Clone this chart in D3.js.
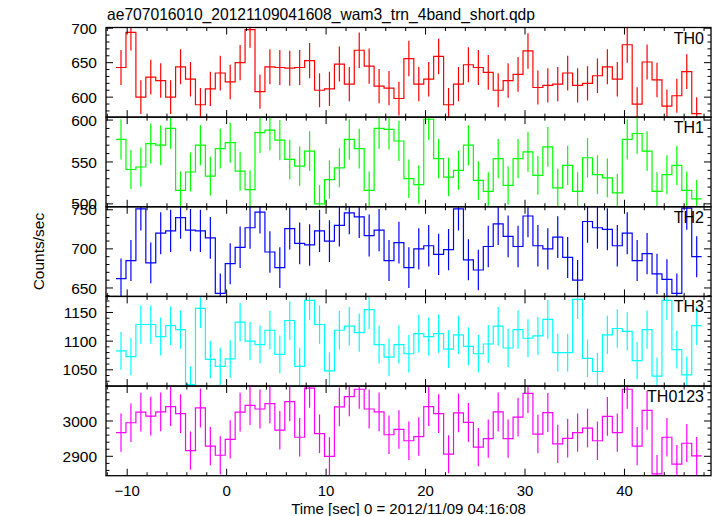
<!DOCTYPE html>
<html>
<head>
<meta charset="utf-8">
<script src="https://cdn.jsdelivr.net/npm/d3@7/dist/d3.min.js"></script>
<style>
  html, body { margin: 0; padding: 0; background: #fff; }
  svg { display: block; }
  text { font-family: "Liberation Sans", Arial, Helvetica, sans-serif; fill: #000; }
</style>
</head>
<body>
<svg id="chart" width="717" height="516"></svg>
<script>
// ---------------- data ----------------
const title = "ae707016010_20121109041608_wam3_trn_4band_short.qdp";
const xLabel = "Time [sec] 0 = 2012/11/09 04:16:08";
const yLabel = "Counts/sec";
const binStart = -11.12;   // left edge of first bin [sec]
const binWidth = 0.998;    // bin width [sec]
const xTickValues = [-10, 0, 10, 20, 30, 40];
const xTickLabels = ["\u221210", "0", "10", "20", "30", "40"];

const panelNames = ["TH0", "TH1", "TH2", "TH3", "TH0123"];
const panelColors = ["#ff0000", "#00ff00", "#0000ff", "#00ffff", "#ff00ff"];

const th0 = [643, 694, 600, 629, 624, 600, 644, 626, 589, 612, 635, 622, 650, 698, 608, 644, 643, 642, 643, 653,
             610, 612, 648, 619, 668, 645, 616, 613, 598, 656, 619, 626, 659, 589, 619, 647, 643, 636, 610, 624,
             633, 667, 614, 617, 619, 635, 617, 620, 631, 644, 626, 676, 590, 651, 625, 587, 602, 637, 576];
const th1 = [577, 541, 544, 572, 570, 590, 516, 538, 570, 533, 566, 573, 539, 517, 585, 588, 576, 553, 545, 563,
             500, 529, 543, 577, 566, 516, 590, 589, 575, 530, 523, 601, 554, 532, 540, 570, 528, 515, 554, 522,
             554, 562, 534, 568, 519, 546, 515, 555, 535, 531, 513, 577, 584, 563, 515, 535, 546, 516, 506];
const th2 = [662, 685, 751, 682, 720, 723, 740, 724, 723, 714, 643, 681, 702, 727, 747, 696, 676, 726, 707, 705,
             723, 710, 730, 746, 741, 717, 724, 685, 708, 676, 700, 704, 693, 699, 751, 686, 673, 703, 732, 716,
             703, 742, 704, 700, 715, 689, 660, 735, 727, 725, 704, 720, 685, 694, 668, 661, 643, 752, 690];
const th3 = [1083, 1073, 1129, 1129, 1108, 1127, 1120, 1024, 1157, 1068, 1056, 1069, 1133, 1100, 1094, 1119, 1077, 1136, 1056, 1171,
             1129, 1048, 1119, 1126, 1115, 1155, 1094, 1072, 1094, 1078, 1113, 1108, 1113, 1086, 1111, 1091, 1078, 1095, 1126, 1088,
             1120, 1105, 1109, 1138, 1080, 1080, 1173, 1070, 1047, 1111, 1122, 1117, 1066, 1120, 1039, 1171, 1085, 1041, 1127];
const th0123 = [2967, 2995, 3025, 3014, 3026, 3041, 3021, 2916, 3037, 2929, 2903, 2948, 3025, 3044, 3034, 3049, 2974, 3055, 2954, 3093,
                2964, 2900, 3040, 3069, 3090, 3034, 3026, 2961, 2976, 2944, 2956, 3041, 3021, 2906, 3023, 2996, 2926, 2950, 3026, 2950,
                3011, 3078, 2963, 3024, 2935, 2951, 2967, 2980, 2944, 3013, 2967, 3090, 2929, 3030, 2850, 2954, 2878, 2937, 2901];
const panelValues = [th0, th1, th2, th3, th0123];

const yDomains = [[571, 701], [496.5, 603.5], [639.2, 753.8], [1021.6, 1178], [2845, 3099]];
const yMajorTicks = [[600, 650, 700], [500, 550, 600], [650, 700, 750], [1050, 1100, 1150], [2900, 3000]];
const yMinorStep = [10, 10, 10, 10, 20];

// ---------------- layout ----------------
const mLeft = 106, mRight = 711, mTop = 27.5, mBottom = 475.7;
const nP = panelNames.length;
const pH = (mBottom - mTop) / nP;

const svg = d3.select("#chart");
const x = d3.scaleLinear().domain([-12.13, 48.7]).range([mLeft, mRight]);

const xMinor = d3.range(-12, 49, 2).filter(v => v % 10 !== 0);

const defs = svg.append("defs");

panelNames.forEach((name, p) => {
  const y0 = mTop + p * pH, y1 = y0 + pH;
  const vals = panelValues[p];
  const color = panelColors[p];
  const y = d3.scaleLinear().domain(yDomains[p]).range([y1, y0]);

  defs.append("clipPath").attr("id", "clip" + p)
    .append("rect").attr("x", mLeft).attr("y", y0).attr("width", mRight - mLeft).attr("height", pH);

  const g = svg.append("g");
  const plot = g.append("g").attr("clip-path", `url(#clip${p})`);

  // step line
  const pts = vals.map((v, i) => [binStart + i * binWidth, v]);
  pts.push([binStart + vals.length * binWidth, vals[vals.length - 1]]);
  const line = d3.line().x(d => x(d[0])).y(d => y(d[1])).curve(d3.curveStepAfter);
  plot.append("path").attr("d", line(pts))
    .attr("fill", "none").attr("stroke", color).attr("stroke-width", 1.2);

  // error bars (Poisson, 1-s bins)
  plot.selectAll("line.err").data(vals).enter().append("line")
    .attr("class", "err")
    .attr("x1", (v, i) => x(binStart + (i + 0.5) * binWidth))
    .attr("x2", (v, i) => x(binStart + (i + 0.5) * binWidth))
    .attr("y1", v => y(v - Math.sqrt(v)))
    .attr("y2", v => y(v + Math.sqrt(v)))
    .attr("stroke", color).attr("stroke-width", 1.2);

  // y ticks (left and right, inward)
  const majors = yMajorTicks[p];
  const dom = yDomains[p];
  const step = yMinorStep[p];
  const minors = d3.range(Math.ceil(dom[0] / step) * step, dom[1], step)
    .filter(v => !majors.includes(v));
  const tg = g.append("g").attr("stroke", "#000").attr("stroke-width", 1);
  majors.forEach(v => {
    const yy = y(v);
    if (yy < y0 - 0.5 || yy > y1 + 0.5) return;
    tg.append("line").attr("x1", mLeft).attr("x2", mLeft + 7).attr("y1", yy).attr("y2", yy);
    tg.append("line").attr("x1", mRight).attr("x2", mRight - 7).attr("y1", yy).attr("y2", yy);
  });
  minors.forEach(v => {
    const yy = y(v);
    tg.append("line").attr("x1", mLeft).attr("x2", mLeft + 3.5).attr("y1", yy).attr("y2", yy);
    tg.append("line").attr("x1", mRight).attr("x2", mRight - 3.5).attr("y1", yy).attr("y2", yy);
  });
  // x ticks top and bottom, inward
  xTickValues.forEach(v => {
    const xx = x(v);
    tg.append("line").attr("x1", xx).attr("x2", xx).attr("y1", y0).attr("y2", y0 + 7);
    tg.append("line").attr("x1", xx).attr("x2", xx).attr("y1", y1).attr("y2", y1 - 7);
  });
  xMinor.forEach(v => {
    const xx = x(v);
    tg.append("line").attr("x1", xx).attr("x2", xx).attr("y1", y0).attr("y2", y0 + 3.5);
    tg.append("line").attr("x1", xx).attr("x2", xx).attr("y1", y1).attr("y2", y1 - 3.5);
  });

  // y tick labels
  majors.forEach(v => {
    g.append("text").attr("x", 97).attr("y", y(v)).attr("dy", "0.36em")
      .attr("text-anchor", "end").attr("font-size", 15.5).text(v);
  });

  // frame
  g.append("rect").attr("x", mLeft).attr("y", y0).attr("width", mRight - mLeft).attr("height", pH)
    .attr("fill", "none").attr("stroke", "#000").attr("stroke-width", 1.3);

  // panel label
  g.append("text").attr("x", 704).attr("y", y0 + 16).attr("text-anchor", "end")
    .attr("font-size", 16).text(name);
});

// x tick labels
xTickValues.forEach((v, i) => {
  svg.append("text").attr("x", x(v)).attr("y", 496).attr("text-anchor", "middle")
    .attr("font-size", 15).text(xTickLabels[i]);
});

// axis titles
svg.append("text").attr("x", (mLeft + mRight) / 2).attr("y", 514).attr("text-anchor", "middle")
  .attr("font-size", 15).text(xLabel);
svg.append("text").attr("transform", `translate(44,${(mTop + mBottom) / 2}) rotate(-90)`)
  .attr("text-anchor", "middle").attr("font-size", 15.5).text(yLabel);

// title
svg.append("text").attr("x", 107).attr("y", 20).attr("font-size", 16.5)
  .attr("textLength", 428).attr("lengthAdjust", "spacingAndGlyphs").text(title);
</script>
</body>
</html>
